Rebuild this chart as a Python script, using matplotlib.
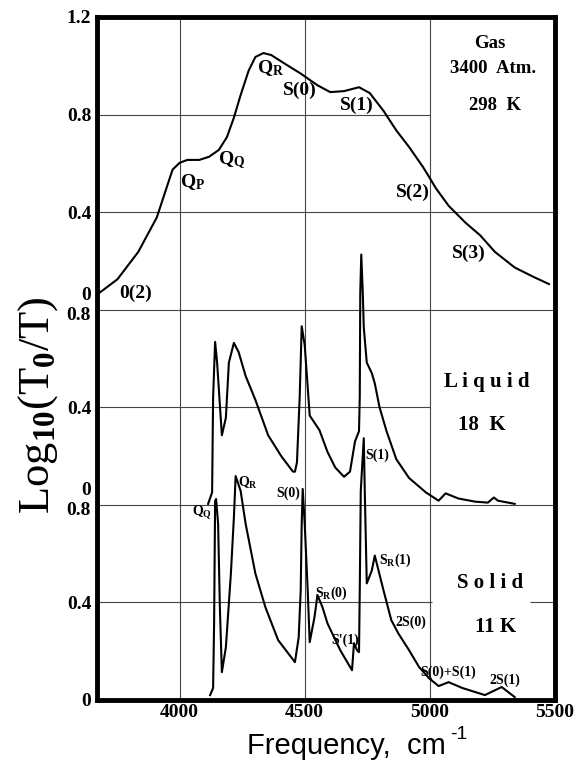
import matplotlib.pyplot as plt
from matplotlib import transforms

plt.rcParams['font.family'] = ['Liberation Serif', 'DejaVu Serif']
plt.rcParams['font.weight'] = 'bold'
plt.rcParams['mathtext.fontset'] = 'custom'
plt.rcParams['mathtext.rm'] = 'Liberation Serif:bold'
plt.rcParams['mathtext.default'] = 'rm'

# gas, 3400 atm, 298 K  (frequency in cm-1, log10(T0/T))
gas_freq = [3673, 3752, 3835, 3909, 3941, 3972, 4000, 4031, 4079, 4118, 4157, 4189, 4217, 4244,
            4276, 4303, 4335, 4366, 4421, 4484, 4551, 4602, 4657, 4717, 4760, 4815, 4866, 4917,
            4972, 4996, 5024, 5075, 5142, 5201, 5260, 5339, 5417, 5476]
gas_abs = [0.064, 0.125, 0.237, 0.378, 0.478, 0.574, 0.602, 0.614, 0.614, 0.627, 0.655, 0.707, 0.787, 0.880,
           0.980, 1.036, 1.052, 1.044, 1.008, 0.968, 0.920, 0.892, 0.896, 0.912, 0.888, 0.815, 0.735, 0.667,
           0.586, 0.546, 0.498, 0.426, 0.357, 0.305, 0.237, 0.173, 0.133, 0.105]

# liquid, 18 K
liq_freq = [4114, 4130, 4134, 4142, 4150, 4169, 4185, 4197, 4217, 4236, 4264, 4303, 4354, 4406,
            4453, 4461, 4469, 4480, 4488, 4500, 4520, 4559, 4591, 4622, 4657, 4681, 4701, 4717,
            4720, 4722, 4726, 4732, 4736, 4748, 4768, 4780, 4799, 4827, 4866, 4917, 4984, 5035,
            5063, 5114, 5181, 5232, 5256, 5272, 5339]
liq_abs = [0.004, 0.051, 0.440, 0.668, 0.583, 0.285, 0.357, 0.583, 0.664, 0.626, 0.528, 0.430, 0.285, 0.200,
           0.136, 0.136, 0.174, 0.443, 0.732, 0.655, 0.366, 0.306, 0.217, 0.153, 0.115, 0.136, 0.260, 0.302,
           0.443, 0.868, 1.026, 0.870, 0.728, 0.583, 0.540, 0.498, 0.400, 0.302, 0.187, 0.110, 0.051, 0.017,
           0.047, 0.026, 0.013, 0.009, 0.030, 0.017, 0.004]

# solid, 11 K
sol_freq = [4122, 4134, 4138, 4142, 4146, 4154, 4161, 4169, 4185, 4205, 4217, 4224, 4244, 4264,
            4303, 4343, 4394, 4461, 4476, 4484, 4488, 4492, 4500, 4512, 4520, 4539, 4551, 4571,
            4591, 4642, 4689, 4697, 4709, 4717, 4720, 4724, 4736, 4740, 4748, 4768, 4780, 4815,
            4846, 4874, 4917, 4957, 4996, 5035, 5075, 5130, 5220, 5287, 5339]
sol_abs = [0.020, 0.049, 0.314, 0.816, 0.824, 0.722, 0.380, 0.114, 0.216, 0.518, 0.747, 0.918, 0.857, 0.722,
           0.518, 0.380, 0.245, 0.155, 0.257, 0.449, 0.722, 0.865, 0.722, 0.449, 0.237, 0.339, 0.430, 0.380,
           0.314, 0.204, 0.122, 0.233, 0.204, 0.196, 0.449, 0.857, 1.073, 0.857, 0.478, 0.530, 0.592, 0.449,
           0.327, 0.273, 0.204, 0.135, 0.090, 0.057, 0.073, 0.049, 0.020, 0.053, 0.012]

# vertical offsets of the three stacked panels
off_sol, off_liq, off_gas = 0.0, 0.8, 1.6

# band assignments (freq, height on stacked axis)
gas_names = ['0(2)', 'Q$_\\mathrm{P}$', 'Q$_\\mathrm{Q}$', 'Q$_\\mathrm{R}$', 'S(0)', 'S(1)', 'S(2)', 'S(3)']
gas_name_x = [3823, 4051, 4209, 4362, 4480, 4709, 4933, 5154]
gas_name_y = [1.668, 2.123, 2.213, 2.59, 2.50, 2.439, 2.082, 1.832]

small_names = ['Q$_\\mathrm{Q}$', 'Q$_\\mathrm{R}$', 'S(0)', 'S(1)', 'S$_\\mathrm{R}$(1)', 'S$_\\mathrm{R}$(0)',
               "S'(1)", '2S(0)', 'S(0)+S(1)', '2S(1)']
small_x = [4091, 4275, 4433, 4790, 4862, 4606, 4661, 4925, 5075, 5300]
small_y = [0.766, 0.889, 0.848, 1.004, 0.574, 0.439, 0.246, 0.32, 0.115, 0.082]

fig = plt.figure(figsize=(5.79, 7.61), dpi=100)
ax = fig.add_axes([0.1675, 0.0802, 0.791, 0.8975])

ax.plot(gas_freq, [off_gas + v for v in gas_abs], color='black', lw=1.5)
ax.plot(liq_freq, [off_liq + v for v in liq_abs], color='black', lw=1.5)
ax.plot(sol_freq, [off_sol + v for v in sol_abs], color='black', lw=1.5)

ax.set_xlim(3670, 5500)
ax.set_ylim(0, 2.8)

# grid
gc = '#454545'
for f in [4000, 4500, 5000]:
    ax.axvline(f, color=gc, lw=0.8, zorder=0)
ax.hlines(0.4, 3670, 5010, color=gc, lw=0.8, zorder=0)
ax.hlines(0.4, 5400, 5500, color=gc, lw=0.8, zorder=0)
ax.hlines(0.8, 3670, 5500, color=gc, lw=0.8, zorder=0)
ax.hlines(1.2, 3670, 5000, color=gc, lw=0.8, zorder=0)
ax.hlines(1.6, 3670, 5500, color=gc, lw=0.8, zorder=0)
ax.hlines(2.0, 3670, 5500, color=gc, lw=0.8, zorder=0)
ax.hlines(2.4, 3670, 5000, color=gc, lw=0.8, zorder=0)

for s in ax.spines.values():
    s.set_linewidth(3.5)

ax.set_xticks([4000, 4500, 5000, 5500])
ax.set_xticklabels(['4000', '4500', '5000', '5500'])
ax.set_yticks([0, 0.4, 1.2, 2.0, 2.4, 2.8])
ax.set_yticklabels(['0', '0.4', '0.4', '0.4', '0.8', '1.2'])
ax.tick_params(length=0, labelsize=14, pad=3)
ax.tick_params(axis='y', pad=4)

# shared boundary labels: "0" of upper panel above, "0.8" of lower panel below
trans = transforms.blended_transform_factory(ax.transAxes, ax.transData)
for yb in [0.8, 1.6]:
    up = trans + transforms.ScaledTranslation(0, 10 / 72, fig.dpi_scale_trans)
    dn = trans + transforms.ScaledTranslation(0, -4 / 72, fig.dpi_scale_trans)
    ax.text(-0.013, yb, '0', transform=up, ha='right', va='center', fontsize=14)
    ax.text(-0.013, yb, '0.8', transform=dn, ha='right', va='center', fontsize=14)

ax.set_ylabel('Log$_{10}$(T$_0$/T)', fontsize=32)
ax.yaxis.set_label_coords(-0.08, 0.432)

xl = fig.text(0.598, 0.009, 'Frequency,  cm', fontfamily='Liberation Sans',
              fontweight='normal', fontsize=21, ha='center', va='baseline')
ax.annotate('-1', xy=(1.0, 0.92), xycoords=xl, xytext=(3, 0), textcoords='offset points',
            fontfamily='Liberation Sans', fontweight='normal', fontsize=14,
            ha='left', va='center', annotation_clip=False)

for name, x, y in zip(gas_names, gas_name_x, gas_name_y):
    ax.text(x, y, name, fontsize=14, ha='center', va='center')
for name, x, y in zip(small_names, small_x, small_y):
    ax.text(x, y, name, fontsize=10, ha='center', va='center')

ax.text(5240, 2.693, 'Gas', fontsize=13.5, ha='center', va='center')
ax.text(5252, 2.59, '3400  Atm.', fontsize=13.5, ha='center', va='center')
ax.text(5262, 2.439, '298  K', fontsize=13.5, ha='center', va='center')
ax.text(5228, 1.303, 'L i q u i d', fontsize=15, ha='center', va='center')
ax.text(5209, 1.127, '18  K', fontsize=15, ha='center', va='center')
ax.text(5240, 0.48, 'S o l i d', fontsize=15, ha='center', va='center')
ax.text(5262, 0.30, '11 K', fontsize=15, ha='center', va='center')

fig.savefig('out.png', dpi=100)
